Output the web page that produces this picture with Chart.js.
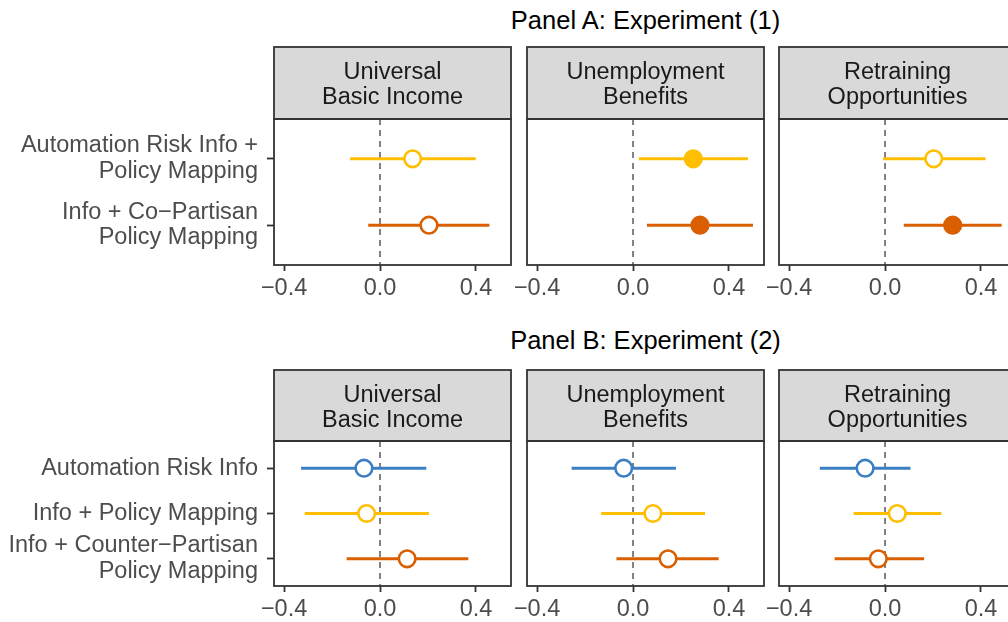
<!DOCTYPE html>
<html>
<head>
<meta charset="utf-8">
<script src="https://cdn.jsdelivr.net/npm/chart.js@4.4.1/dist/chart.umd.min.js"></script>
<style>
  html, body { margin: 0; padding: 0; background: #ffffff; overflow: hidden; }
  #wrap { position: relative; width: 1008px; height: 622px; overflow: hidden; background: #ffffff; }
  #wrap canvas { position: absolute; }
  .title {
    position: absolute; left: 274px; width: 743px; text-align: center;
    font-family: 'Liberation Sans', Arial, sans-serif; font-size: 25.5px; line-height: 1;
    color: #000000; white-space: nowrap;
  }
</style>
</head>
<body>
<div id="wrap">
  <div class="title" style="top:8px">Panel A: Experiment (1)</div>
  <div class="title" style="top:328px">Panel B: Experiment (2)</div>
</div>
<script>
// ---- data -------------------------------------------------------------
const outcomes = [
  ['Universal', 'Basic Income'],
  ['Unemployment', 'Benefits'],
  ['Retraining', 'Opportunities']
];

// Experiment (1): treatment arms
const armsA = [
  ['Automation Risk Info +', 'Policy Mapping'],
  ['Info + Co\u2212Partisan', 'Policy Mapping']
];
// per outcome, per arm
const estA  = [[0.136, 0.204], [0.251, 0.279], [0.203, 0.282]];
const lowA  = [[-0.125, -0.049], [0.024, 0.058], [-0.008, 0.078]];
const highA = [[0.399, 0.456], [0.479, 0.500], [0.419, 0.486]];
const sigA  = [[false, false], [true, true], [false, true]];

// Experiment (2): treatment arms
const armsB = [
  ['Automation Risk Info'],
  ['Info + Policy Mapping'],
  ['Info + Counter\u2212Partisan', 'Policy Mapping']
];
const estB  = [[-0.067, -0.056, 0.113], [-0.039, 0.083, 0.146], [-0.083, 0.051, -0.028]];
const lowB  = [[-0.329, -0.314, -0.139], [-0.256, -0.133, -0.069], [-0.272, -0.131, -0.210]];
const highB = [[0.193, 0.204, 0.368], [0.179, 0.300, 0.357], [0.106, 0.235, 0.163]];
const sigB  = [[false, false, false], [false, false, false], [false, false, false]];

const xTicks = [-0.4, 0.0, 0.4];
const xMin = -0.442, xMax = 0.546;

// ---- styling / geometry ------------------------------------------------
const FONT = "'Liberation Sans', Arial, sans-serif";
const BLUE = '#3B7FC2', YELLOW = '#FFBE00', ORANGE = '#D95F02';
const colorsA = [YELLOW, ORANGE];
const colorsB = [BLUE, YELLOW, ORANGE];

const colLeft = [274, 527, 779];
const plotW = 237;
const SIDE = 30;
const X_AXIS_H = 48;
const geomA = { stripTop: 47, plotTop: 119, plotBottom: 265 };
const geomB = { stripTop: 370, plotTop: 441, plotBottom: 586 };

const fmt = v => (Math.abs(v) < 1e-9 ? '0.0' : (v < 0 ? '\u2212' : '') + Math.abs(v).toFixed(1));

// zero reference line, panel frame and facet strip
const facetPlugin = {
  id: 'facet',
  beforeDatasetsDraw(chart) {
    const { ctx, chartArea: a, scales: { x } } = chart;
    const zx = x.getPixelForValue(0);
    ctx.save();
    ctx.strokeStyle = '#4D4D4D';
    ctx.lineWidth = 1.4;
    ctx.setLineDash([6, 5]);
    ctx.beginPath();
    ctx.moveTo(zx, a.top);
    ctx.lineTo(zx, a.bottom);
    ctx.stroke();
    ctx.restore();
  },
  afterDraw(chart, args, opts) {
    const { ctx, chartArea: a } = chart;
    const h = opts.stripH;
    ctx.save();
    // strip
    ctx.fillStyle = '#D9D9D9';
    ctx.fillRect(a.left, a.top - h, a.right - a.left, h);
    ctx.strokeStyle = '#333333';
    ctx.lineWidth = 1.8;
    ctx.strokeRect(a.left, a.top - h, a.right - a.left, h);
    ctx.fillStyle = '#1A1A1A';
    ctx.font = '23.5px ' + FONT;
    ctx.textAlign = 'center';
    ctx.textBaseline = 'alphabetic';
    const cx = (a.left + a.right) / 2;
    opts.lines.forEach((t, i) => ctx.fillText(t, cx, a.top - h + 32 + i * 25));
    // panel border
    ctx.strokeRect(a.left, a.top, a.right - a.left, a.bottom - a.top);
    ctx.restore();
  }
};

const wrap = document.getElementById('wrap');

function makePanel(col, geom, arms, colors, est, low, high, sig) {
  const first = col === 0;
  const canvasLeft = first ? 0 : colLeft[col] - SIDE;
  const canvasTop = geom.stripTop - 4;
  const width = (colLeft[col] - canvasLeft) + plotW + SIDE;
  const height = geom.plotBottom - canvasTop + X_AXIS_H;
  const cv = document.createElement('canvas');
  cv.width = width; cv.height = height;
  cv.style.left = canvasLeft + 'px'; cv.style.top = canvasTop + 'px';
  cv.style.width = width + 'px'; cv.style.height = height + 'px';
  wrap.appendChild(cv);

  const datasets = arms.map((arm, i) => ({
    data: [
      { x: low[col][i], y: i + 1 },
      { x: est[col][i], y: i + 1 },
      { x: high[col][i], y: i + 1 }
    ],
    showLine: true,
    borderColor: colors[i],
    borderWidth: 3,
    borderCapStyle: 'butt',
    pointRadius: c => (c.dataIndex === 1 ? 8.3 : 0),
    pointHoverRadius: c => (c.dataIndex === 1 ? 8.3 : 0),
    pointBorderWidth: 2.6,
    pointBorderColor: colors[i],
    pointBackgroundColor: sig[col][i] ? colors[i] : '#FFFFFF',
    clip: false
  }));

  new Chart(cv, {
    type: 'scatter',
    data: { datasets },
    options: {
      responsive: false,
      animation: false,
      devicePixelRatio: 1,
      events: [],
      layout: { padding: { top: geom.plotTop - canvasTop, left: first ? 0 : SIDE, right: SIDE, bottom: 0 } },
      plugins: {
        legend: { display: false },
        tooltip: { enabled: false },
        facet: { lines: outcomes[col], stripH: geom.plotTop - geom.stripTop }
      },
      scales: {
        x: {
          type: 'linear', min: xMin, max: xMax,
          afterBuildTicks: s => { s.ticks = xTicks.map(v => ({ value: v })); },
          afterFit: s => { s.height = X_AXIS_H; },
          ticks: {
            callback: v => fmt(v), color: '#4D4D4D',
            font: { family: FONT, size: 23.5 }, padding: 3, maxRotation: 0, autoSkip: false
          },
          grid: { drawOnChartArea: false, drawTicks: true, tickLength: 6, tickColor: '#333333', tickWidth: 1.8 },
          border: { display: false }
        },
        y: {
          type: 'linear', reverse: true, min: 0.4, max: arms.length + 0.6,
          display: first,
          afterBuildTicks: s => { s.ticks = arms.map((a, i) => ({ value: i + 1 })); },
          afterFit: s => { s.width = first ? colLeft[0] : 0; },
          ticks: {
            callback: v => arms[Math.round(v) - 1], color: '#4D4D4D',
            font: { family: FONT, size: 23.5, lineHeight: 1.09 }, padding: 9, autoSkip: false
          },
          grid: { drawOnChartArea: false, drawTicks: true, tickLength: 7, tickColor: '#333333', tickWidth: 1.8 },
          border: { display: false }
        }
      }
    },
    plugins: [facetPlugin]
  });
}

for (let c = 0; c < 3; c++) {
  makePanel(c, geomA, armsA, colorsA, estA, lowA, highA, sigA);
  makePanel(c, geomB, armsB, colorsB, estB, lowB, highB, sigB);
}
</script>
</body>
</html>
